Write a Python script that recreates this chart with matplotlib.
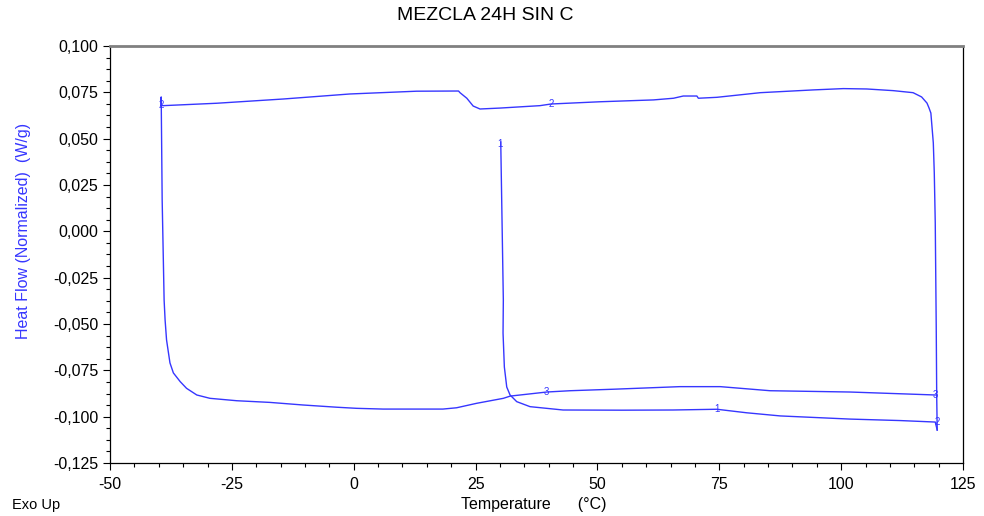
import numpy as np
import matplotlib
matplotlib.use("Agg")
import matplotlib.pyplot as plt
from matplotlib.ticker import MultipleLocator, FuncFormatter

plt.rcParams['font.family'] = ['Liberation Sans', 'DejaVu Sans']
plt.rcParams['axes.unicode_minus'] = False

# heating 1 (30 -> 120 C), then the jump at 120 C
temp_1 = [30.16, 30.69, 30.63, 30.9, 31.39, 32.07, 33.44, 36.17, 42.94, 55.0, 65.5,
          74.5, 80.6, 87.5, 101.8, 112.1, 119.3, 119.7]
flow_1 = [0.0482, -0.0371, -0.0549, -0.0732, -0.084, -0.0883, -0.0919, -0.0946, -0.0964,
          -0.0965, -0.0964, -0.0960, -0.0979, -0.0996, -0.1013, -0.1021, -0.1029, -0.1072]

# cooling (120 -> -40 C)
temp_2 = [119.7, 119.6, 119.5, 119.3, 119.1, 118.9, 118.4, 118.0, 117.6, 116.5, 114.75,
          110.7, 105.25, 100.45, 94.3, 83.4, 74.5, 70.7, 70.4, 67.6, 65.6, 61.5, 50.5, 40.5,
          38.2, 30.0, 25.9, 24.5, 23.2, 21.8, 21.5, 12.9, -0.8, -14.4, -28.1, -39.1, -39.5]
flow_2 = [-0.1072, -0.0894, -0.0516, 0.0045, 0.0315, 0.0477, 0.0638, 0.0667, 0.0692,
          0.0725, 0.0748, 0.0759, 0.0768, 0.0770, 0.0763, 0.0748, 0.0723, 0.0718, 0.0730,
          0.0730, 0.0718, 0.0709, 0.0699, 0.0687, 0.0678, 0.0665, 0.0660, 0.0676, 0.0718,
          0.0748, 0.0757, 0.0756, 0.0741, 0.0714, 0.0691, 0.0678, 0.0679]

# heating 2 (-40 -> 120 C)
temp_3 = [-39.5, -39.5, -39.3, -38.9, -38.7, -38.4, -38.0, -37.7, -37.0, -35.6, -34.3,
          -32.2, -29.5, -24.0, -17.2, -10.4, -3.5, 0.6, 6.0, 18.3, 21.1, 25.2, 30.7, 32.1,
          39.6, 44.4, 53.2, 66.9, 75.2, 85.4, 101.8, 119.3]
flow_3 = [0.0679, 0.0725, 0.0169, -0.0371, -0.0478, -0.0586, -0.0657, -0.0710, -0.0764,
          -0.0811, -0.0847, -0.0883, -0.0901, -0.0914, -0.0923, -0.0937, -0.0949, -0.0955,
          -0.0959, -0.0959, -0.0952, -0.0928, -0.0901, -0.0889, -0.0867, -0.0860, -0.0852,
          -0.0838, -0.0838, -0.0860, -0.0867, -0.0883]

# small segment markers written on the curve
mark_t = [30.1, 74.5, 119.7, 40.5, -39.5, 39.6, 119.4]
mark_f = [0.0470, -0.0960, -0.1029, 0.0687, 0.0679, -0.0867, -0.0883]
mark_s = ["1", "1", "2", "2", "2", "3", "3"]

blue = '#3636ff'

fig = plt.figure(figsize=(9.84, 5.16), dpi=100)
ax = fig.add_axes([0.1118, 0.1027, 0.8669, 0.8082])

ax.plot(temp_1, flow_1, color=blue, lw=1.0)
ax.plot(temp_2, flow_2, color=blue, lw=1.0)
ax.plot(temp_3, flow_3, color=blue, lw=1.0)
for t, f, s in zip(mark_t, mark_f, mark_s):
    ax.text(t, f, s, color=blue, fontsize=7, ha='center', va='center')

ax.set_xlim(-50, 125)
ax.set_ylim(-0.125, 0.100)
ax.xaxis.set_major_locator(MultipleLocator(25))
ax.xaxis.set_minor_locator(MultipleLocator(5))
ax.yaxis.set_major_locator(MultipleLocator(0.025))
ax.yaxis.set_minor_locator(MultipleLocator(0.00625))
ax.yaxis.set_major_formatter(FuncFormatter(lambda v, p: f"{v:.3f}".replace('.', ',')))
ax.tick_params(which='major', length=5, width=0.8, labelsize=11.5, direction='out')
ax.tick_params(which='minor', length=3, width=0.8, direction='out')
ax.tick_params(axis='x', pad=5)

for s in ['left', 'right', 'bottom']:
    ax.spines[s].set_color('black')
    ax.spines[s].set_linewidth(0.9)
ax.spines['top'].set_color('#808080')
ax.spines['top'].set_linewidth(2)

fig.text(24 / 984, 1 - 231 / 516, 'Heat Flow (Normalized)  (W/g)', color=blue,
         fontsize=11.5, rotation=90, ha='center', va='center')
fig.text(0.493, 0.97, 'MEZCLA 24H SIN C', ha='center', va='center', fontsize=14)
fig.text(0.012, 0.022, 'Exo Up', ha='left', va='center', fontsize=10.5)
fig.text(0.542, 0.022, 'Temperature      (\u00b0C)', ha='center', va='center', fontsize=11.5)

fig.savefig('out.png', dpi=100)
